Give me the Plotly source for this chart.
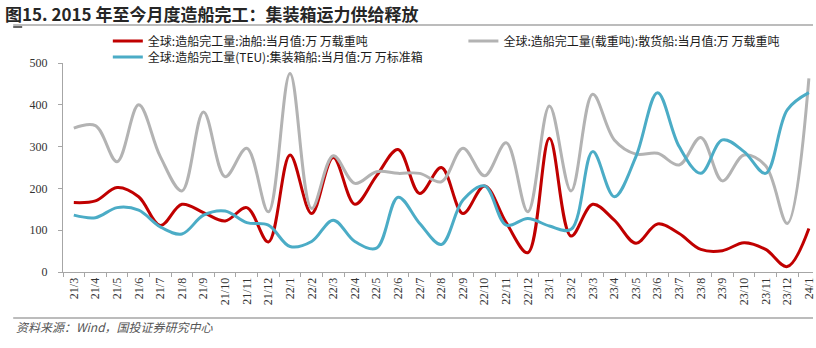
import plotly.graph_objects as go

months = ["21/3","21/4","21/5","21/6","21/7","21/8","21/9","21/10","21/11","21/12",
          "22/1","22/2","22/3","22/4","22/5","22/6","22/7","22/8","22/9","22/10","22/11","22/12",
          "23/1","23/2","23/3","23/4","23/5","23/6","23/7","23/8","23/9","23/10","23/11","23/12",
          "24/1"]

oil_tanker = [166, 170, 202, 180, 111, 162, 142, 122, 154, 72,
              280, 140, 274, 162, 230, 293, 188, 250, 140, 206, 118, 46,
              320, 86, 162, 124, 69, 115, 92, 54, 51, 70, 54, 13,
              104]

bulk_carrier = [344, 350, 264, 400, 276, 194, 383, 228, 296, 144,
                475, 152, 278, 212, 240, 236, 236, 216, 296, 230, 309, 144,
                397, 194, 425, 316, 282, 284, 256, 322, 218, 280, 254, 116,
                463]

container_ship = [136, 130, 154, 148, 108, 91, 136, 146, 118, 112,
                  61, 73, 124, 73, 57, 179, 116, 66, 172, 206, 112, 128,
                  110, 102, 288, 180, 276, 429, 300, 236, 316, 288, 236, 388,
                  429]

names = ["全球:造船完工量:油船:当月值:万 万载重吨",
         "全球:造船完工量(载重吨):散货船:当月值:万 万载重吨",
         "全球:造船完工量(TEU):集装箱船:当月值:万 万标准箱"]
colors = ["#C00000", "#B3B3B3", "#4BACC6"]

W, H = 816, 348
L, R, T, B = 63, 0, 63, 76
pw = W - L - R
ph = H - T - B

def px(x):
    return (x - L) / pw

def py(y):
    return (H - B - y) / ph

fig = go.Figure()
series = [oil_tanker, bulk_carrier, container_ship]
legends = ["legend", "legend3", "legend2"]
for s, n, c, lg in zip(series, names, colors, legends):
    fig.add_trace(go.Scatter(x=months, y=s, name=n, mode="lines",
                             line=dict(color=c, width=3, shape="spline", smoothing=1.0),
                             legend=lg, hoverinfo="skip"))

legfont = dict(family="Noto Sans CJK SC", size=12, color="#1a1a1a")
common = dict(orientation="h", xanchor="left", yanchor="middle", bgcolor="rgba(0,0,0,0)",
              borderwidth=0, font=legfont, itemwidth=30)

fig.update_layout(
    width=W, height=H,
    margin=dict(l=L, r=R, t=T, b=B),
    paper_bgcolor="white", plot_bgcolor="white",
    legend=dict(x=px(108), y=py(41), **common),
    legend2=dict(x=px(108), y=py(57), **common),
    legend3=dict(x=px(465), y=py(41), **common),
    xaxis=dict(type="category", range=[-0.5, 34.19], showgrid=False,
               showline=True, linecolor="#A6A6A6", linewidth=1,
               ticks="outside", ticklen=4, tickcolor="#A6A6A6", tickson="boundaries",
               tickangle=-90, tickfont=dict(family="Liberation Serif", size=12, color="#333333"),
               zeroline=False),
    yaxis=dict(range=[0, 500], tickvals=[0, 100, 200, 300, 400, 500], showgrid=False,
               showline=True, linecolor="#A6A6A6", linewidth=1,
               ticks="outside", ticklen=4, tickcolor="#A6A6A6", ticklabelstandoff=8,
               tickfont=dict(family="Liberation Serif", size=12, color="#333333"),
               zeroline=False),
    showlegend=True,
)

# header / footer rules
fig.add_shape(type="line", xref="paper", yref="paper", x0=px(13), x1=px(816), y0=py(25), y1=py(25),
              line=dict(color="#A6A6A6", width=1.5))
fig.add_shape(type="line", xref="paper", yref="paper", x0=px(13), x1=px(22), y0=py(27), y1=py(27),
              line=dict(color="#333333", width=1.5))
fig.add_shape(type="line", xref="paper", yref="paper", x0=px(13), x1=px(816), y0=py(318), y1=py(318),
              line=dict(color="#A6A6A6", width=1.5))

fig.add_annotation(text="<b>图15. 2015 年至今月度造船完工：集装箱运力供给释放</b>",
                   xref="paper", yref="paper", x=px(3), y=py(13), xanchor="left", yanchor="middle",
                   showarrow=False, font=dict(family="Noto Sans CJK SC", size=17, color="#262626"))
fig.add_annotation(text="<i>资料来源：Wind，国投证券研究中心</i>",
                   xref="paper", yref="paper", x=px(14), y=py(326), xanchor="left", yanchor="middle",
                   showarrow=False, font=dict(family="Noto Sans CJK SC", size=12, color="#555555"))

fig.write_html("out.html")
